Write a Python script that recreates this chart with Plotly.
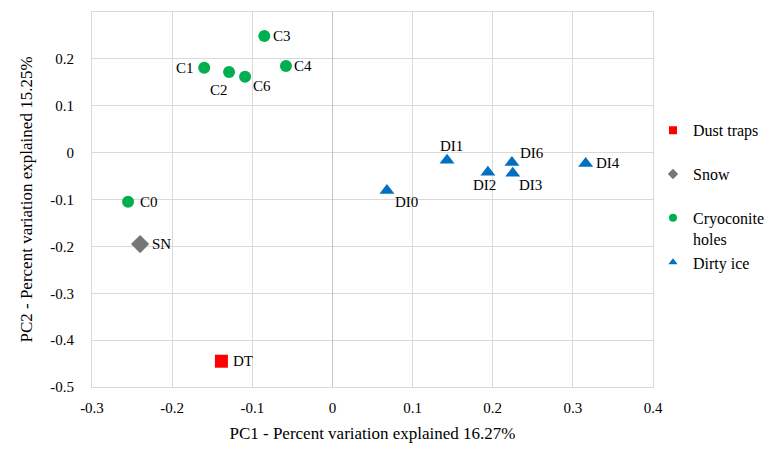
import plotly.graph_objects as go

# ---- data ----
dt_names = ["DT"]
dt_x = [-0.1385]
dt_y = [-0.445]

sn_names = ["SN"]
sn_x = [-0.240]
sn_y = [-0.195]

c_names = ["C0", "C1", "C2", "C3", "C4", "C6"]
c_x = [-0.255, -0.160, -0.129, -0.085, -0.058, -0.109]
c_y = [-0.105, 0.181, 0.172, 0.249, 0.185, 0.162]

di_names = ["DI0", "DI1", "DI2", "DI3", "DI4", "DI6"]
di_x = [0.068, 0.143, 0.194, 0.225, 0.316, 0.224]
di_y = [-0.081, -0.016, -0.042, -0.044, -0.023, -0.021]

x_ticks = [-0.3, -0.2, -0.1, 0, 0.1, 0.2, 0.3, 0.4]
y_ticks = [0.3, 0.2, 0.1, 0, -0.1, -0.2, -0.3, -0.4, -0.5]

# ---- label placement (style) : (xanchor, xshift, yshift) ----
label_style = {
    "DT": ("left", 10, 0), "SN": ("left", 10, 0),
    "C0": ("left", 10, 0), "C1": ("right", -8, 0), "C2": ("center", -10, -18),
    "C3": ("left", 7, 0), "C4": ("left", 6, 0), "C6": ("left", 6, -9),
    "DI0": ("left", 6, -11), "DI1": ("center", 4, 14), "DI2": ("center", -3, -13),
    "DI3": ("left", 4, -12), "DI4": ("left", 8, 0), "DI6": ("left", 6, 9),
}

FONT = "Liberation Serif"
TXT = dict(family=FONT, size=15, color="#000000")
TITLE = dict(family=FONT, size=17, color="#000000")
LEG = dict(family=FONT, size=16, color="#000000")
fig = go.Figure()

series = [
    ("Dust traps", dt_names, dt_x, dt_y, dict(symbol="square", size=13, color="#FF0000"), "g1", 8),
    ("Snow", sn_names, sn_x, sn_y, dict(symbol="diamond", size=14, color="#767676"), "g2", 8),
    ("Cryoconite<br>holes", c_names, c_x, c_y, dict(symbol="circle", size=12, color="#00B050"), "g3", 8),
    ("Dirty ice", di_names, di_x, di_y, dict(symbol="triangle-up", size=13, color="#0070C0"), "g3", 8),
]

for name, names, xs, ys, mk, grp, lsize in series:
    fig.add_trace(go.Scatter(x=xs, y=ys, mode="markers", name=name, marker=mk,
                             showlegend=False, hoverinfo="text", text=names))
    # legend-only entry with small glyph
    fig.add_trace(go.Scatter(x=[None], y=[None], mode="markers", name=name,
                             marker=dict(symbol=mk["symbol"], size=lsize, color=mk["color"]),
                             legendgroup=grp, showlegend=True))
    for n, xv, yv in zip(names, xs, ys):
        xa, xs_, ys_ = label_style[n]
        fig.add_annotation(x=xv, y=yv, text=n, showarrow=False, xanchor=xa,
                           yanchor="middle", xshift=xs_, yshift=ys_, font=TXT)

grid = "#D9D9D9"
fig.update_layout(
    width=769, height=444,
    margin=dict(l=84, r=124, t=4, b=65, autoexpand=False),
    paper_bgcolor="white", plot_bgcolor="white",
    font=TXT,
    showlegend=True,
    legend=dict(x=1.0, y=0.73, xanchor="left", yanchor="top",
                font=LEG, tracegroupgap=20, valign="top", itemwidth=30,
                bgcolor="rgba(0,0,0,0)"),
    xaxis=dict(range=[-0.3, 0.4], tickvals=x_ticks, ticktext=[f"{v:g}" for v in x_ticks],
               tickfont=TXT, automargin=False,
               showgrid=True, gridcolor=grid, gridwidth=1,
               zeroline=True, zerolinecolor="#C4C4C4", zerolinewidth=1,
               showline=True, mirror=True, linecolor=grid, linewidth=1,
               ticks="", ticklabelstandoff=7,
               title=dict(text="PC1 - Percent variation explained 16.27%", standoff=12, font=TITLE)),
    yaxis=dict(range=[-0.5, 0.3], tickvals=y_ticks, ticktext=[f"{v:g}" for v in y_ticks],
               tickfont=TXT, automargin=False,
               showgrid=True, gridcolor=grid, gridwidth=1, zeroline=False,
               showline=True, mirror=True, linecolor=grid, linewidth=1,
               ticks="", ticklabelstandoff=14,
               title=dict(text="PC2 - Percent variation explained 15.25%", standoff=13, font=TITLE)),
)

fig.write_html("out.html")
